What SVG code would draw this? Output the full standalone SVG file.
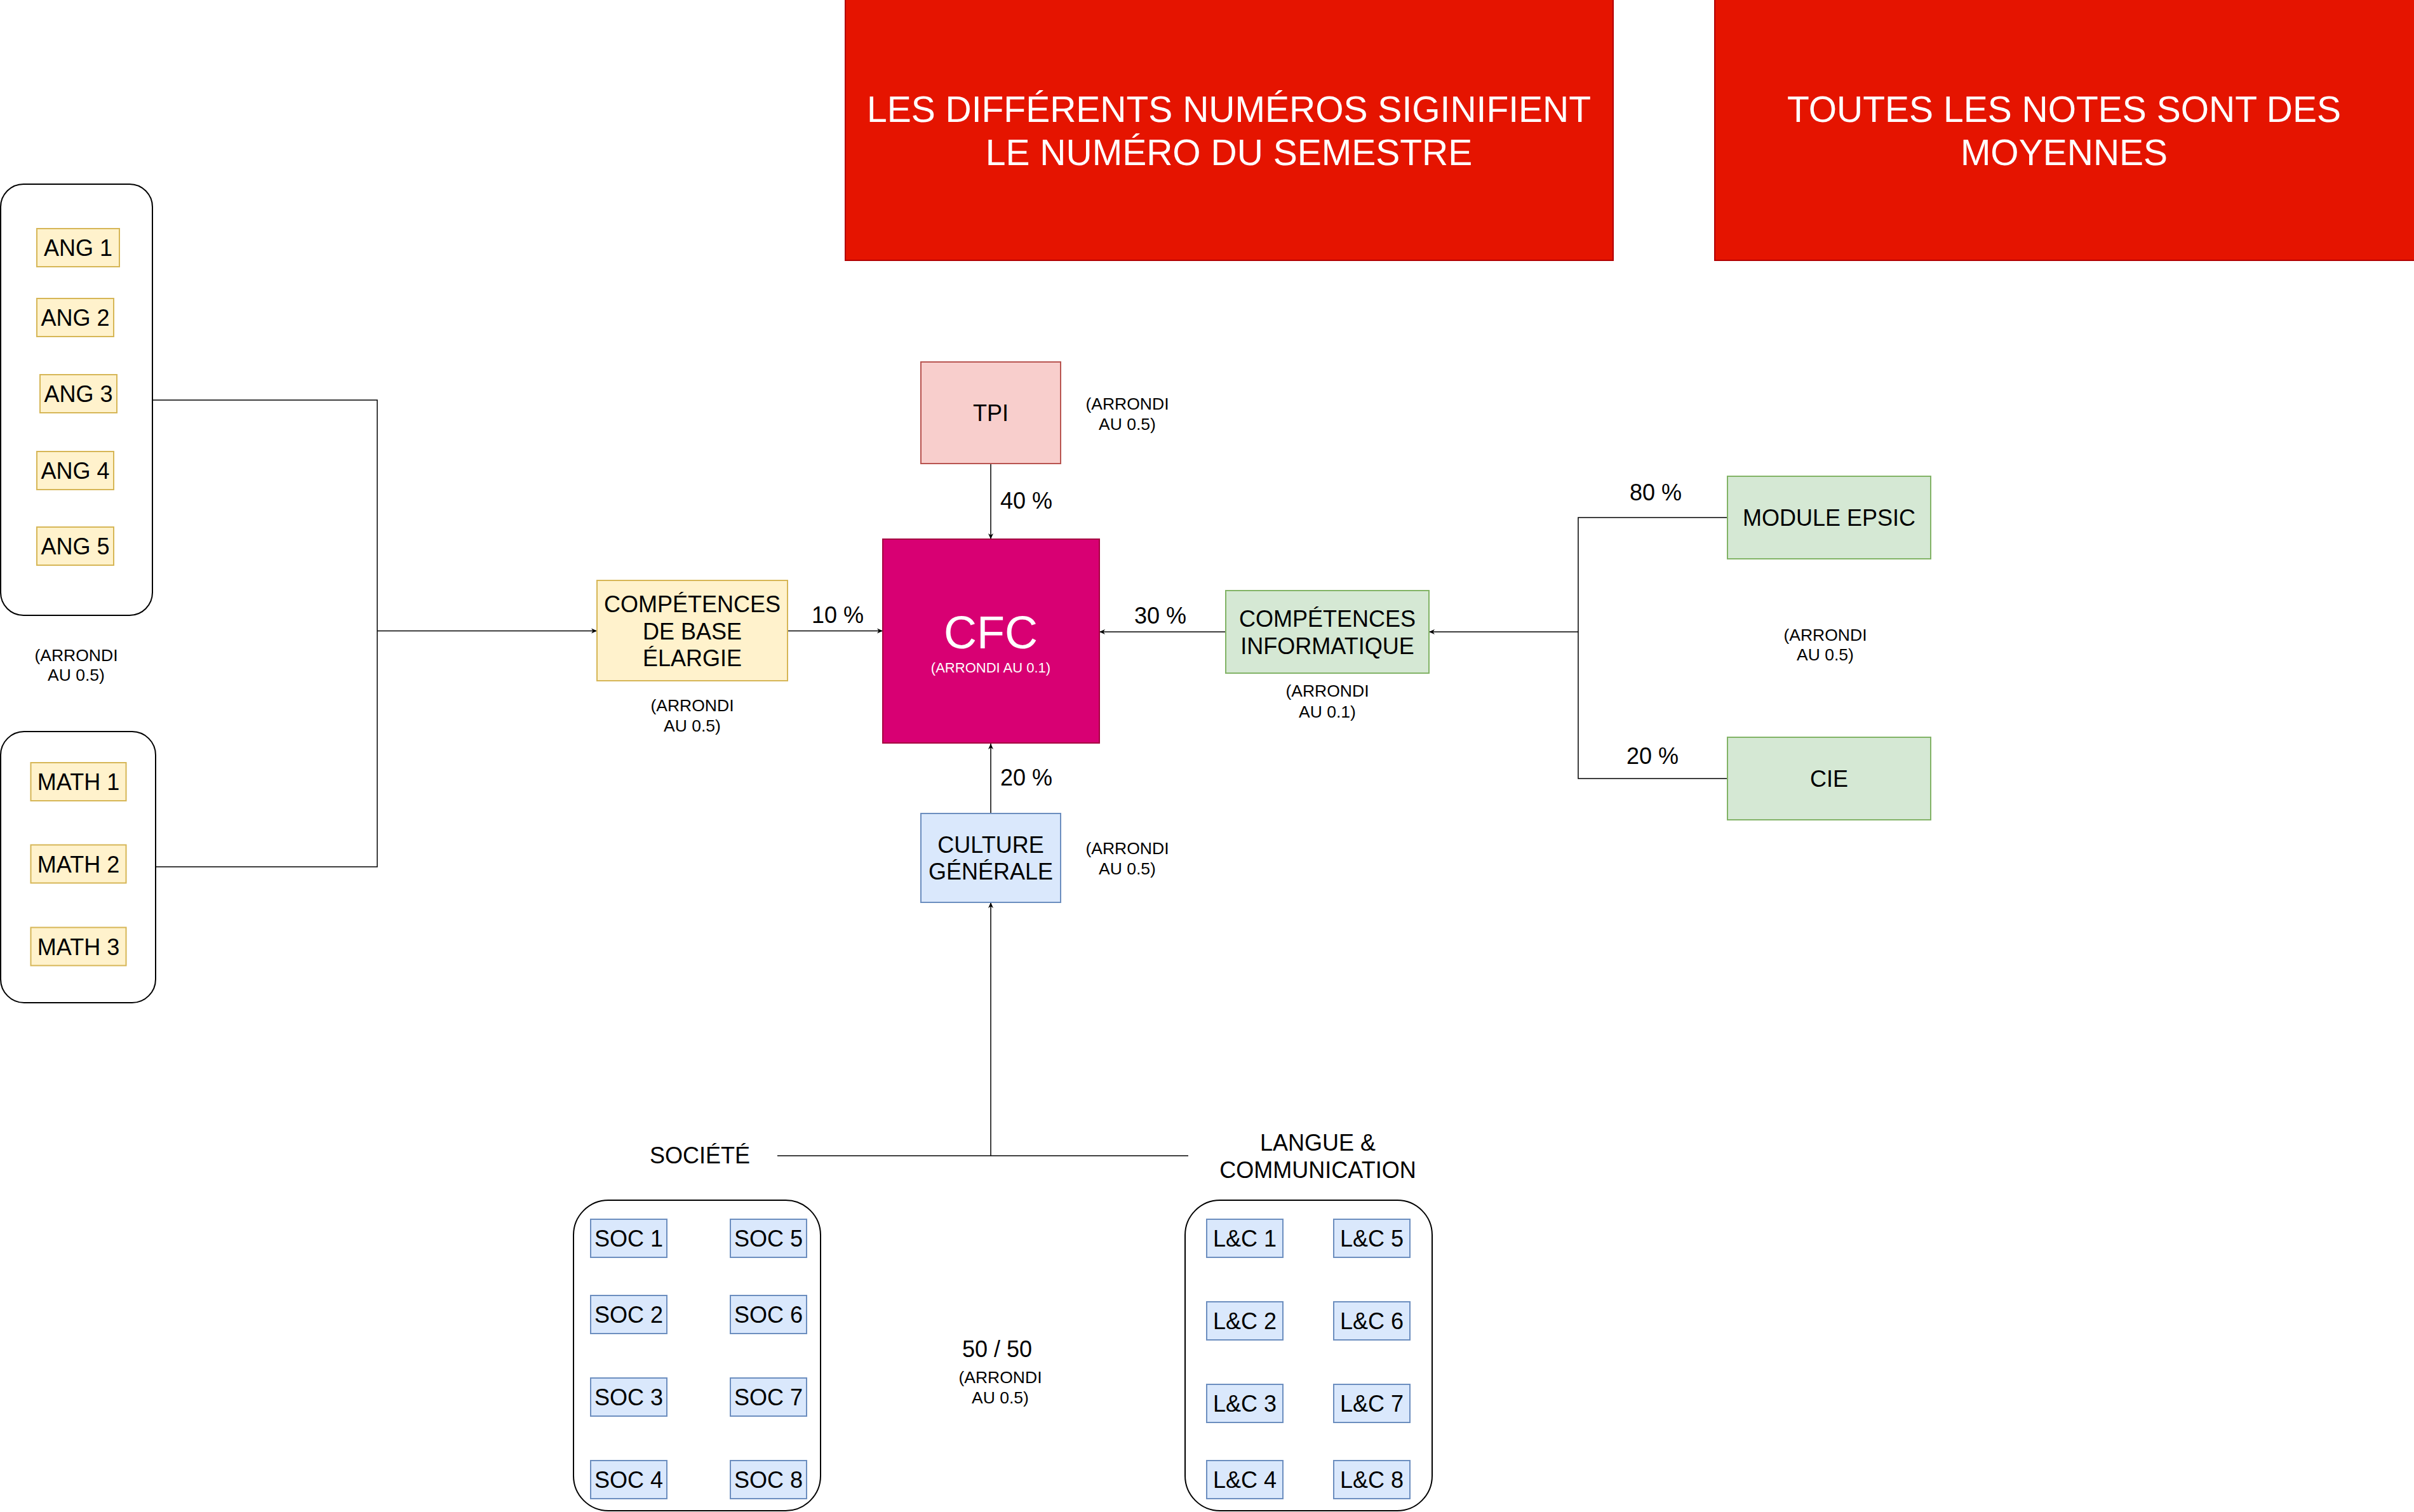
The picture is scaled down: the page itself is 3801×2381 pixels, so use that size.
<svg xmlns="http://www.w3.org/2000/svg" width="3801" height="2381" viewBox="0 0 3801 2381">
<defs>
<style>
text{font-family:"Liberation Sans",Arial,Helvetica,sans-serif;fill:#000;text-anchor:middle}
.f36{font-size:36px}
.f26{font-size:26.5px}
.w{fill:#fff}
.red{fill:#e51400;stroke:#b20000;stroke-width:2}
.yel{fill:#fff2cc;stroke:#d6b656;stroke-width:2}
.blu{fill:#dae8fc;stroke:#6c8ebf;stroke-width:2}
.grn{fill:#d5e8d4;stroke:#82b366;stroke-width:2}
.pnk{fill:#f8cecc;stroke:#b85450;stroke-width:2}
.mag{fill:#d80073;stroke:#a50040;stroke-width:2}
.cont{fill:none;stroke:#000;stroke-width:2}
.ln{fill:none;stroke:#000;stroke-width:1.5}
.arr{marker-end:url(#ah)}
.st{text-anchor:start}
</style>
<marker id="ah" viewBox="0 0 10 10" refX="10" refY="5" markerWidth="9" markerHeight="9" markerUnits="userSpaceOnUse" orient="auto">
<path d="M0,0.5 L10,5 L0,9.5 L3,5 z" fill="#000"/>
</marker>
</defs>
<rect width="3801" height="2381" fill="#fff"/>

<g id="note-semestre">
<rect class="red" x="1331" y="-2" width="1209" height="412"/>
<text class="w" x="1935" y="192" style="font-size:57px">LES DIFFÉRENTS NUMÉROS SIGINIFIENT</text>
<text class="w" x="1935" y="260" style="font-size:57px">LE NUMÉRO DU SEMESTRE</text>
</g>
<g id="note-moyennes">
<rect class="red" x="2700" y="-2" width="1110" height="412"/>
<text class="w" x="3250" y="192" style="font-size:57px">TOUTES LES NOTES SONT DES</text>
<text class="w" x="3250" y="260" style="font-size:57px">MOYENNES</text>
</g>

<g id="connectors">
<path class="ln" d="M240,630 H594 V1365 H245"/>
<path class="ln arr" d="M594,993.5 H940"/>
<path class="ln arr" d="M1240,993.5 H1390"/>
<path class="ln arr" d="M1560,731 V849"/>
<path class="ln arr" d="M1560,1281 V1171"/>
<path class="ln arr" d="M1560,1820 V1421"/>
<path class="ln" d="M1224,1820 H1871"/>
<path class="ln arr" d="M1930,995 H1731"/>
<path class="ln" d="M2720,815 H2485 V1226 H2720"/>
<path class="ln arr" d="M2485,995 H2250"/>
<text class="f36 st" x="1575" y="801">40 %</text>
<text class="f36 st" x="1278" y="981">10 %</text>
<text class="f36 st" x="1786" y="982">30 %</text>
<text class="f36 st" x="1575" y="1237">20 %</text>
<text class="f36 st" x="2566" y="788">80 %</text>
<text class="f36 st" x="2561" y="1203">20 %</text>
</g>

<g id="anglais">
<rect class="cont" x="1" y="290" width="239" height="679" rx="36" ry="36"/>
<g id="ang1"><rect class="yel" x="58" y="360" width="130" height="60"/><text class="f36" x="123" y="403">ANG 1</text></g>
<g id="ang2"><rect class="yel" x="58" y="470" width="121" height="60"/><text class="f36" x="118.5" y="513">ANG 2</text></g>
<g id="ang3"><rect class="yel" x="63" y="590" width="121" height="60"/><text class="f36" x="123.5" y="633">ANG 3</text></g>
<g id="ang4"><rect class="yel" x="58" y="711" width="121" height="60"/><text class="f36" x="118.5" y="754">ANG 4</text></g>
<g id="ang5"><rect class="yel" x="58" y="830" width="121" height="60"/><text class="f36" x="118.5" y="873">ANG 5</text></g>
</g>
<g id="ang-arrondi">
<text class="f26" x="120" y="1041">(ARRONDI</text>
<text class="f26" x="120" y="1072">AU 0.5)</text>
</g>

<g id="maths">
<rect class="cont" x="1" y="1152" width="244" height="427" rx="37" ry="37"/>
<g id="math1"><rect class="yel" x="48.5" y="1201" width="150" height="60"/><text class="f36" x="123.5" y="1244">MATH 1</text></g>
<g id="math2"><rect class="yel" x="48.5" y="1330.5" width="150" height="60"/><text class="f36" x="123.5" y="1373.5">MATH 2</text></g>
<g id="math3"><rect class="yel" x="48.5" y="1460.5" width="150" height="60"/><text class="f36" x="123.5" y="1503.5">MATH 3</text></g>
</g>

<g id="cbe">
<rect class="yel" x="940" y="914" width="300" height="158"/>
<text class="f36" x="1090" y="964">COMPÉTENCES</text>
<text class="f36" x="1090" y="1007">DE BASE</text>
<text class="f36" x="1090" y="1049">ÉLARGIE</text>
</g>
<g id="cbe-arrondi">
<text class="f26" x="1090" y="1120">(ARRONDI</text>
<text class="f26" x="1090" y="1152">AU 0.5)</text>
</g>

<g id="cfc">
<rect class="mag" x="1390" y="849" width="341" height="321"/>
<text class="w" x="1560" y="1021" style="font-size:72px">CFC</text>
<text class="w" x="1560" y="1059" style="font-size:22px">(ARRONDI AU 0.1)</text>
</g>

<g id="tpi">
<rect class="pnk" x="1450" y="570" width="220" height="160"/>
<text class="f36" x="1560" y="663">TPI</text>
</g>
<g id="tpi-arrondi">
<text class="f26" x="1775" y="644.5">(ARRONDI</text>
<text class="f26" x="1775" y="676.5">AU 0.5)</text>
</g>

<g id="ci">
<rect class="grn" x="1930" y="930" width="320" height="130"/>
<text class="f36" x="2090" y="987">COMPÉTENCES</text>
<text class="f36" x="2090" y="1030">INFORMATIQUE</text>
</g>
<g id="ci-arrondi">
<text class="f26" x="2090" y="1097">(ARRONDI</text>
<text class="f26" x="2090" y="1129.5">AU 0.1)</text>
</g>

<g id="module-epsic">
<rect class="grn" x="2720" y="750" width="320" height="130"/>
<text class="f36" x="2880" y="828">MODULE EPSIC</text>
</g>
<g id="cie">
<rect class="grn" x="2720" y="1161" width="320" height="130"/>
<text class="f36" x="2880" y="1239">CIE</text>
</g>
<g id="info-arrondi">
<text class="f26" x="2874" y="1009">(ARRONDI</text>
<text class="f26" x="2874" y="1040">AU 0.5)</text>
</g>

<g id="cg">
<rect class="blu" x="1450" y="1281" width="220" height="140"/>
<text class="f36" x="1560" y="1342.5">CULTURE</text>
<text class="f36" x="1560" y="1385">GÉNÉRALE</text>
</g>
<g id="cg-arrondi">
<text class="f26" x="1775" y="1345">(ARRONDI</text>
<text class="f26" x="1775" y="1377">AU 0.5)</text>
</g>

<g id="societe-label"><text class="f36" x="1102" y="1832">SOCIÉTÉ</text></g>
<g id="lc-label">
<text class="f36" x="2075" y="1811.5">LANGUE &amp;</text>
<text class="f36" x="2075" y="1854.5">COMMUNICATION</text>
</g>

<g id="societe">
<rect class="cont" x="903" y="1890" width="389" height="489" rx="55" ry="55"/>
<g id="soc1"><rect class="blu" x="930" y="1920" width="120" height="60"/><text class="f36" x="990" y="1963">SOC 1</text></g>
<g id="soc2"><rect class="blu" x="930" y="2040" width="120" height="60"/><text class="f36" x="990" y="2083">SOC 2</text></g>
<g id="soc3"><rect class="blu" x="930" y="2170" width="120" height="60"/><text class="f36" x="990" y="2213">SOC 3</text></g>
<g id="soc4"><rect class="blu" x="930" y="2300" width="120" height="60"/><text class="f36" x="990" y="2343">SOC 4</text></g>
<g id="soc5"><rect class="blu" x="1150" y="1920" width="120" height="60"/><text class="f36" x="1210" y="1963">SOC 5</text></g>
<g id="soc6"><rect class="blu" x="1150" y="2040" width="120" height="60"/><text class="f36" x="1210" y="2083">SOC 6</text></g>
<g id="soc7"><rect class="blu" x="1150" y="2170" width="120" height="60"/><text class="f36" x="1210" y="2213">SOC 7</text></g>
<g id="soc8"><rect class="blu" x="1150" y="2300" width="120" height="60"/><text class="f36" x="1210" y="2343">SOC 8</text></g>
</g>

<g id="langue-communication">
<rect class="cont" x="1866" y="1890" width="389" height="489" rx="55" ry="55"/>
<g id="lc1"><rect class="blu" x="1900" y="1920" width="120" height="60"/><text class="f36" x="1960" y="1963">L&amp;C 1</text></g>
<g id="lc2"><rect class="blu" x="1900" y="2050" width="120" height="60"/><text class="f36" x="1960" y="2093">L&amp;C 2</text></g>
<g id="lc3"><rect class="blu" x="1900" y="2180" width="120" height="60"/><text class="f36" x="1960" y="2223">L&amp;C 3</text></g>
<g id="lc4"><rect class="blu" x="1900" y="2300" width="120" height="60"/><text class="f36" x="1960" y="2343">L&amp;C 4</text></g>
<g id="lc5"><rect class="blu" x="2100" y="1920" width="120" height="60"/><text class="f36" x="2160" y="1963">L&amp;C 5</text></g>
<g id="lc6"><rect class="blu" x="2100" y="2050" width="120" height="60"/><text class="f36" x="2160" y="2093">L&amp;C 6</text></g>
<g id="lc7"><rect class="blu" x="2100" y="2180" width="120" height="60"/><text class="f36" x="2160" y="2223">L&amp;C 7</text></g>
<g id="lc8"><rect class="blu" x="2100" y="2300" width="120" height="60"/><text class="f36" x="2160" y="2343">L&amp;C 8</text></g>
</g>

<g id="cg-split">
<text class="f36" x="1570" y="2137">50 / 50</text>
<text class="f26" x="1575" y="2178">(ARRONDI</text>
<text class="f26" x="1575" y="2210">AU 0.5)</text>
</g>
</svg>
